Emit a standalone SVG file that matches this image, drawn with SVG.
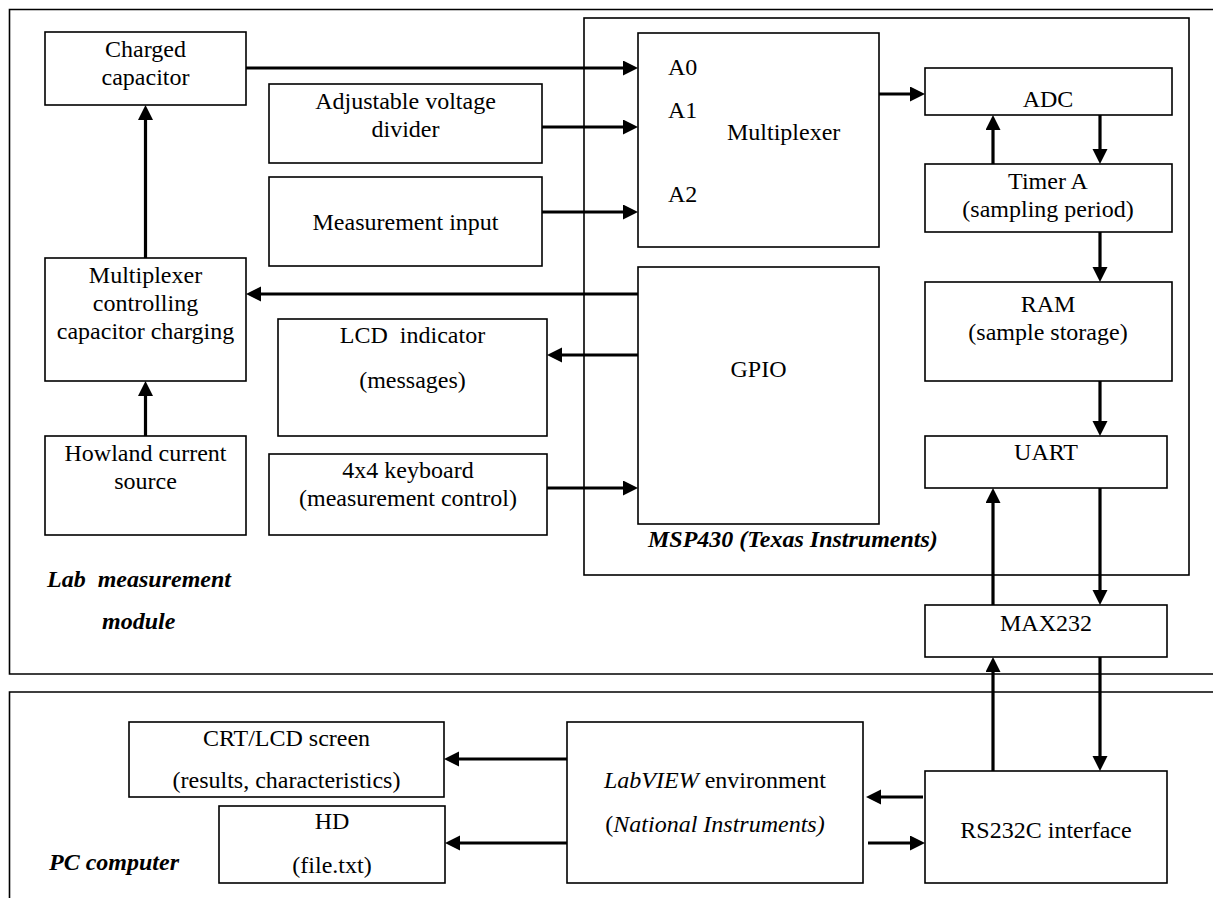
<svg xmlns="http://www.w3.org/2000/svg" width="1213" height="898" viewBox="0 0 1213 898" font-family="'Liberation Serif', 'Times New Roman', 'DejaVu Serif', serif">
<style>
.box{fill:#fff;stroke:#000;stroke-width:1.6}
.frame{fill:none;stroke:#000;stroke-width:1.6}
text{font-family:'Liberation Serif','Times New Roman','DejaVu Serif',serif;font-size:24px;fill:#000}
.t{text-anchor:middle}
.bi{font-weight:bold;font-style:italic;white-space:pre}
.c line{stroke:#000;stroke-width:3.2;marker-end:url(#ah)}
</style>
<defs>
<marker id="ah" markerUnits="userSpaceOnUse" markerWidth="16" markerHeight="16" refX="6" refY="7.5" orient="auto" viewBox="0 0 16 16">
<path d="M0,0 L15,7.5 L0,15 z" fill="#000"/>
</marker>
</defs>
<rect width="1213" height="898" fill="#fff"/>

<g id="lab-module">
<path class="frame" d="M1213,9.5 H9.5 V674 H1213"/>
<text class="bi" x="47" y="587" xml:space="preserve">Lab  measurement</text>
<text class="bi" x="102" y="629">module</text>
</g>
<g id="pc-computer">
<path class="frame" d="M1213,692 H9.5 V898"/>
<text class="bi" x="49" y="870">PC computer</text>
</g>
<g id="msp430">
<rect class="frame" x="584" y="18" width="605" height="557"/>
<text class="bi" x="648" y="547">MSP430 (Texas Instruments)</text>
</g>

<g id="charged-capacitor">
<rect class="box" x="45" y="32" width="201" height="73"/>
<text class="t" x="145.5" y="57">Charged</text>
<text class="t" x="145.5" y="85">capacitor</text>
</g>
<g id="mux-control">
<rect class="box" x="45" y="258" width="201" height="123"/>
<text class="t" x="145.5" y="283">Multiplexer</text>
<text class="t" x="145.5" y="311">controlling</text>
<text class="t" x="145.5" y="339">capacitor charging</text>
</g>
<g id="howland">
<rect class="box" x="45" y="436" width="201" height="99"/>
<text class="t" x="145.5" y="461">Howland current</text>
<text class="t" x="145.5" y="489">source</text>
</g>
<g id="voltage-divider">
<rect class="box" x="269" y="84" width="273" height="79"/>
<text class="t" x="405.5" y="109">Adjustable voltage</text>
<text class="t" x="405.5" y="137">divider</text>
</g>
<g id="measurement-input">
<rect class="box" x="269" y="177" width="273" height="89"/>
<text class="t" x="405.5" y="230">Measurement input</text>
</g>
<g id="lcd-indicator">
<rect class="box" x="278" y="319" width="269" height="117"/>
<text class="t" x="412.5" y="343" xml:space="preserve" style="white-space:pre">LCD  indicator</text>
<text class="t" x="412.5" y="388">(messages)</text>
</g>
<g id="keyboard">
<rect class="box" x="269" y="454" width="278" height="81"/>
<text class="t" x="408" y="478">4x4 keyboard</text>
<text class="t" x="408" y="506">(measurement control)</text>
</g>
<g id="multiplexer">
<rect class="box" x="638" y="33" width="241" height="214"/>
<text x="668" y="75">A0</text>
<text x="668" y="118">A1</text>
<text x="727" y="140">Multiplexer</text>
<text x="668" y="202">A2</text>
</g>
<g id="gpio">
<rect class="box" x="638" y="267" width="241" height="257"/>
<text class="t" x="758.5" y="377">GPIO</text>
</g>
<g id="adc">
<rect class="box" x="925" y="68" width="247" height="47"/>
<text class="t" x="1048" y="107">ADC</text>
</g>
<g id="timer-a">
<rect class="box" x="925" y="164" width="247" height="68"/>
<text class="t" x="1048" y="189">Timer A</text>
<text class="t" x="1048" y="217">(sampling period)</text>
</g>
<g id="ram">
<rect class="box" x="925" y="282" width="247" height="99"/>
<text class="t" x="1048" y="312">RAM</text>
<text class="t" x="1048" y="340">(sample storage)</text>
</g>
<g id="uart">
<rect class="box" x="925" y="436" width="242" height="52"/>
<text class="t" x="1046" y="460">UART</text>
</g>
<g id="max232">
<rect class="box" x="925" y="605" width="242" height="52"/>
<text class="t" x="1046" y="631">MAX232</text>
</g>
<g id="crt-screen">
<rect class="box" x="129" y="722" width="315" height="75"/>
<text class="t" x="286.5" y="746">CRT/LCD screen</text>
<text class="t" x="286.5" y="788">(results, characteristics)</text>
</g>
<g id="hd">
<rect class="box" x="219" y="806" width="226" height="77"/>
<text class="t" x="332" y="829">HD</text>
<text class="t" x="332" y="873">(file.txt)</text>
</g>
<g id="labview">
<rect class="box" x="567" y="722" width="296" height="161"/>
<text class="t" x="715" y="788"><tspan font-style="italic">LabVIEW</tspan> environment</text>
<text class="t" x="715" y="832">(<tspan font-style="italic">National Instruments)</tspan></text>
</g>
<g id="rs232c">
<rect class="box" x="925" y="771" width="242" height="112"/>
<text class="t" x="1046" y="838">RS232C interface</text>
</g>

<g id="connectors" class="c">
<line x1="246" y1="68" x2="629" y2="68"/>
<line x1="542" y1="127" x2="629" y2="127"/>
<line x1="542" y1="212" x2="629" y2="212"/>
<line x1="879" y1="94" x2="916" y2="94"/>
<line x1="145.5" y1="258" x2="145.5" y2="114"/>
<line x1="145.5" y1="436" x2="145.5" y2="390"/>
<line x1="638" y1="294" x2="255" y2="294"/>
<line x1="638" y1="355" x2="556" y2="355"/>
<line x1="547" y1="488" x2="629" y2="488"/>
<line x1="1100" y1="115" x2="1100" y2="155"/>
<line x1="993" y1="164" x2="993" y2="124"/>
<line x1="1100" y1="232" x2="1100" y2="273"/>
<line x1="1100" y1="381" x2="1100" y2="427"/>
<line x1="1100" y1="488" x2="1100" y2="596"/>
<line x1="993" y1="605" x2="993" y2="497"/>
<line x1="993" y1="771" x2="993" y2="666"/>
<line x1="1100" y1="657" x2="1100" y2="762"/>
<line x1="923" y1="797" x2="875" y2="797"/>
<line x1="868" y1="843" x2="916" y2="843"/>
<line x1="567" y1="759" x2="453" y2="759"/>
<line x1="567" y1="843" x2="454" y2="843"/>
</g>
</svg>
